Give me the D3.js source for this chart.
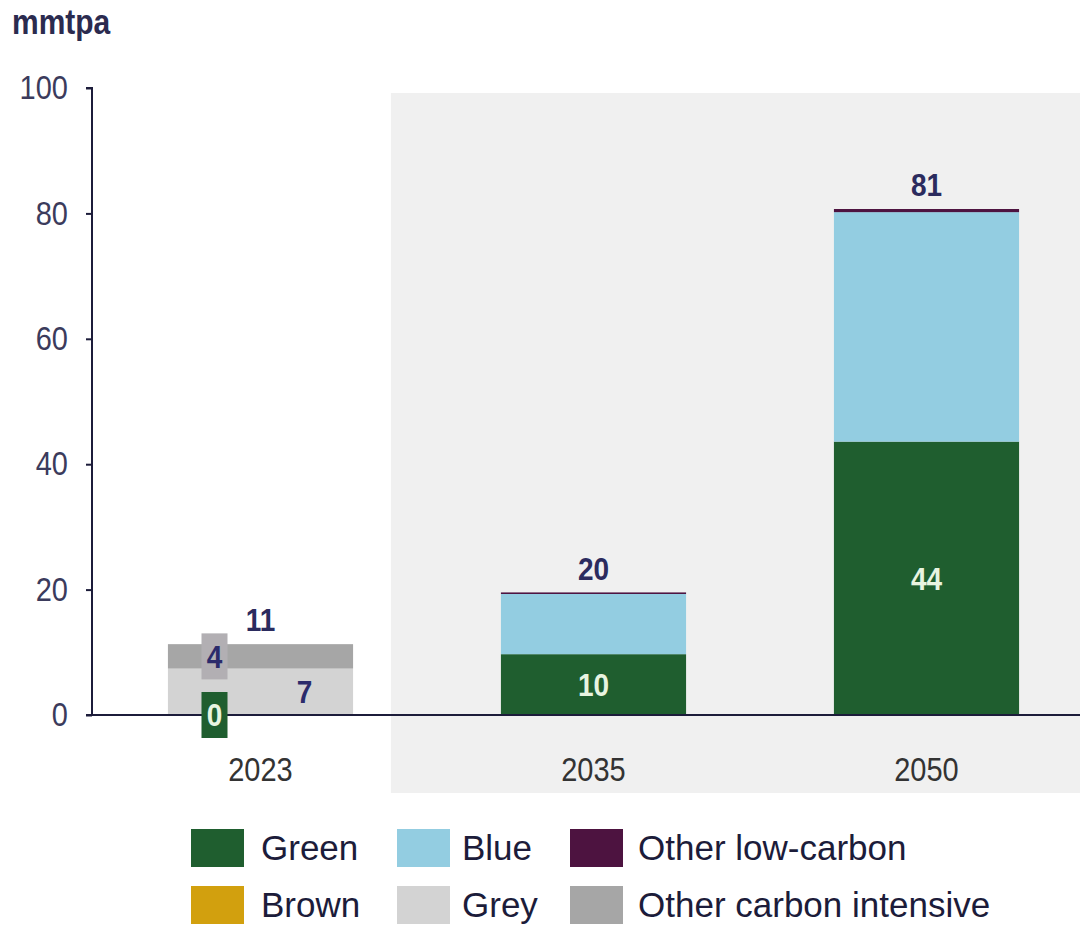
<!DOCTYPE html>
<html>
<head>
<meta charset="utf-8">
<script src="https://cdn.jsdelivr.net/npm/d3@7"></script>
<style>
  html, body { margin: 0; padding: 0; background: #ffffff; }
  svg { display: block; font-family: "Liberation Sans", Arial, sans-serif; }
</style>
</head>
<body>
<svg id="chart" width="1080" height="925"></svg>
<script>
// Hydrogen supply by type, mmtpa
const categories = ["2023", "2035", "2050"];
const green      = [0, 9.7, 43.6];
const blue       = [0, 9.6, 36.6];
const otherLow   = [0, 0.25, 0.5];
const brown      = [0, 0, 0];
const grey       = [7.4, 0, 0];
const otherCI    = [3.9, 0, 0];
const yTicks     = [0, 20, 40, 60, 80, 100];

const seriesNames  = ["Green", "Blue", "Other low-carbon", "Brown", "Grey", "Other carbon intensive"];
const seriesValues = [green, blue, otherLow, brown, grey, otherCI];
const colors = ["#1f5e2f", "#93cde1", "#4d1340", "#d2a00e", "#d3d3d3", "#a6a6a6"];

const svg = d3.select("#chart");
const STRETCH = 1.15;

// text helper: slightly tall glyphs
function txt(g, x, y, s, opts) {
  const k = opts.stretch || STRETCH;
  return g.append("text")
    .attr("transform", `translate(${x},${y}) scale(1,${k})`)
    .attr("text-anchor", opts.anchor || "middle")
    .attr("dominant-baseline", "central")
    .attr("font-size", opts.size)
    .attr("font-weight", opts.weight || "normal")
    .attr("fill", opts.fill)
    .text(s);
}

const x = d3.scaleBand().domain(categories).range([93, 1094]).paddingInner(0.444).paddingOuter(0.225);
const y = d3.scaleLinear().domain([0, 100]).range([715, 88]);

// stack rows
const rows = categories.map((c, i) => {
  const r = { cat: c };
  seriesNames.forEach((n, k) => r[n] = seriesValues[k][i]);
  return r;
});
const stack = d3.stack().keys(seriesNames)(rows);
const totals = categories.map((c, i) => d3.sum(seriesValues, s => s[i]));

// shaded projection area
svg.append("rect")
  .attr("x", x("2035") - 110).attr("y", 93)
  .attr("width", 1080 - (x("2035") - 110)).attr("height", 700)
  .attr("fill", "#f0f0f0");

// unit label
txt(svg, 12, 22, "mmtpa", { anchor: "start", size: 30, weight: "bold", fill: "#2b2b4f" });

// bars
const layers = svg.append("g");
stack.forEach((layer, k) => {
  layers.append("g").attr("fill", colors[k])
    .selectAll("rect").data(layer).join("rect")
    .attr("x", d => x(d.data.cat))
    .attr("width", x.bandwidth())
    .attr("y", d => y(d[1]))
    .attr("height", d => Math.max(0, y(d[0]) - y(d[1])));
});

// y axis
const yAxis = svg.append("g").attr("transform", "translate(92,0)")
  .call(d3.axisLeft(y).tickValues(yTicks).tickSize(6).tickFormat(""));
yAxis.selectAll("path, line").attr("stroke", "#1c1c3a").attr("stroke-width", 2);
yAxis.select(".domain").attr("d", `M-6,${y(100)}H0V${y(0)}`);
yTicks.forEach(t => txt(svg, 68, y(t), d3.format("d")(t), { anchor: "end", size: 29, fill: "#3b3b5c" }));

// baseline
svg.append("line").attr("x1", 86).attr("x2", 1080).attr("y1", y(0)).attr("y2", y(0))
  .attr("stroke", "#1c1c3a").attr("stroke-width", 2);

// category labels
categories.forEach(c => txt(svg, x(c) + x.bandwidth() / 2, 770, c, { size: 29, fill: "#333333" }));

// totals
categories.forEach((c, i) => txt(svg, x(c) + x.bandwidth() / 2, y(totals[i]) - 24, d3.format(".0f")(totals[i]),
  { size: 28, weight: "bold", fill: "#2b2b5e" }));

// segment labels
const cx = c => x(c) + x.bandwidth() / 2;
const mid = (k, i) => y((stack[k][i][0] + stack[k][i][1]) / 2);
const fmt = d3.format(".0f");
// 2023: green (zero) and other carbon intensive boxed, grey offset right
[[0, "#1f5e2f", "#e8f4e0"], [5, "#b2afb3", "#2b2b6b"]].forEach(([k, bg, fg]) => {
  const px = cx("2023") - 46, py = mid(k, 0);
  svg.append("rect").attr("x", px - 13).attr("y", py - 23).attr("width", 26).attr("height", 46).attr("fill", bg);
  txt(svg, px, py, fmt(seriesValues[k][0]), { size: 28, weight: "bold", fill: fg });
});
txt(svg, cx("2023") + 44, mid(4, 0), fmt(grey[0]), { size: 28, weight: "bold", fill: "#2b2b6b" });
// green labels for projections
[1, 2].forEach(i => txt(svg, cx(categories[i]), mid(0, i), fmt(green[i]), { size: 28, weight: "bold", fill: "#e8f4e0" }));

// legend
const legCols = [[191, 261], [397, 462], [570, 638]];
const legRows = [847, 904];
seriesNames.forEach((n, k) => {
  const col = legCols[k % 3], ry = legRows[Math.floor(k / 3)];
  svg.append("rect").attr("x", col[0]).attr("y", ry - 18).attr("width", 53).attr("height", 38).attr("fill", colors[k]);
  txt(svg, col[1], ry, n, { anchor: "start", size: 35, fill: "#1c1c3a", stretch: 1.0 });
});
</script>
</body>
</html>
